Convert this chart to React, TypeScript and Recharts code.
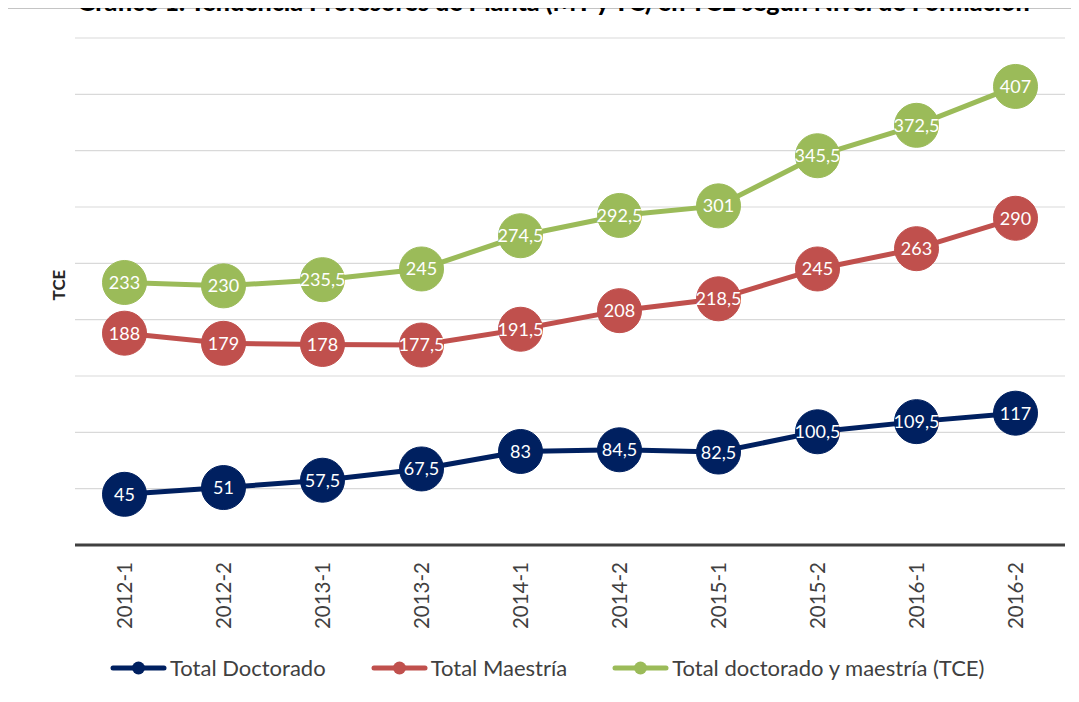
import { LineChart, Line, XAxis, YAxis, CartesianGrid } from "recharts";

const periods = ["2012-1", "2012-2", "2013-1", "2013-2", "2014-1", "2014-2", "2015-1", "2015-2", "2016-1", "2016-2"];
const doctorado = [45, 51, 57.5, 67.5, 83, 84.5, 82.5, 100.5, 109.5, 117];
const maestria = [188, 179, 178, 177.5, 191.5, 208, 218.5, 245, 263, 290];
const totalTce = [233, 230, 235.5, 245, 274.5, 292.5, 301, 345.5, 372.5, 407];
const yTicks = [0, 50, 100, 150, 200, 250, 300, 350, 400, 450];

const series = [
  { key: "doc", name: "Total Doctorado", color: "#002060" },
  { key: "mae", name: "Total Maestría", color: "#C0504D" },
  { key: "tot", name: "Total doctorado y maestría (TCE)", color: "#9BBB59" },
];

const data = periods.map((p, i) => ({
  period: p,
  doc: doctorado[i],
  mae: maestria[i],
  tot: totalTce[i],
}));

const FONT = "Lato, 'Open Sans', sans-serif";

const fmt = (v: number) => String(v).replace(".", ",");

const PointLabel = (props: any) => {
  const { x, y, value } = props;
  return (
    <text x={x} y={y} dy="0.36em" textAnchor="middle" fill="#fff" fontSize={18} fontFamily={FONT}>
      {fmt(value)}
    </text>
  );
};

const PeriodTick = (props: any) => {
  const { x, y, payload } = props;
  return (
    <g transform={`translate(${x},${y})`}>
      <text transform="rotate(-90)" x={-9} y={0} dy="0.35em" textAnchor="end" fill="#404040" fontSize={20.5} fontFamily={FONT}>
        {payload.value}
      </text>
    </g>
  );
};

export default function App() {
  return (
    <div style={{ position: "relative", margin: -8, width: 1079, height: 702, overflow: "hidden", background: "#fff" }}>
      <div style={{ position: "absolute", left: 7, top: 8, width: 1200, height: 900, border: "1.5px solid #c4c4c4" }} />
      <div
        style={{
          position: "absolute",
          left: 0,
          width: 1107,
          top: -9,
          lineHeight: "20px",
          textAlign: "center",
          fontFamily: FONT,
          fontWeight: 900,
          fontSize: 25,
          color: "#000",
          whiteSpace: "nowrap",
          zIndex: 2,
        }}
      >
        Gráfico 1. Tendencia Profesores de Planta (MT y TC) en TCE según Nivel de Formación
      </div>
      <div
        style={{
          position: "absolute",
          left: 58,
          top: 285,
          transform: "translate(-50%, -50%) rotate(-90deg)",
          fontFamily: FONT,
          fontWeight: 700,
          fontSize: 17,
          color: "#262626",
        }}
      >
        TCE
      </div>
      <LineChart
        width={1079}
        height={702}
        data={data}
        margin={{ top: 38, right: 14, left: 75, bottom: 0 }}
        style={{ position: "absolute", left: 0, top: 0 }}
      >
        <CartesianGrid vertical={false} stroke="#d9d9d9" strokeWidth={1.2} />
        <XAxis
          dataKey="period"
          height={157}
          padding={{ left: 49.5, right: 49.5 }}
          axisLine={{ stroke: "#404040", strokeWidth: 3 }}
          tickLine={false}
          tick={<PeriodTick />}
          interval={0}
        />
        <YAxis hide domain={[0, 450]} ticks={yTicks} />
        {series.map((s) => (
          <Line
            key={s.key}
            dataKey={s.key}
            name={s.name}
            stroke={s.color}
            strokeWidth={5}
            dot={{ r: 22, fill: s.color, stroke: s.color, strokeWidth: 1 }}
            activeDot={false}
            label={<PointLabel />}
            isAnimationActive={false}
          />
        ))}
      </LineChart>
      <div
        style={{
          position: "absolute",
          left: 110,
          top: 654,
          display: "flex",
          gap: 45,
          fontFamily: FONT,
          fontSize: 22,
          color: "#404040",
        }}
      >
        {series.map((s) => (
          <div key={s.key} style={{ display: "flex", alignItems: "center", gap: 3 }}>
            <svg width={57} height={16}>
              <line x1={3} y1={8} x2={54} y2={8} stroke={s.color} strokeWidth={5} strokeLinecap="round" />
              <circle cx={28.5} cy={8} r={6.5} fill={s.color} />
            </svg>
            <span>{s.name}</span>
          </div>
        ))}
      </div>
    </div>
  );
}
